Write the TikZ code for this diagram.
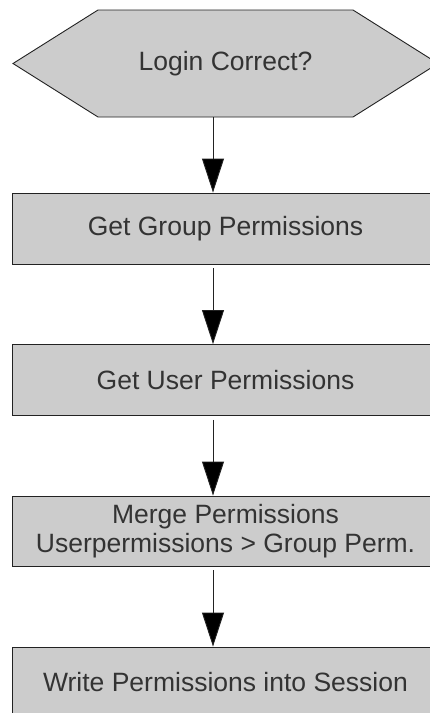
\documentclass[tikz,border=0pt]{standalone}
\usepackage{fontspec}
\setmainfont{Liberation Sans}
\usetikzlibrary{arrows.meta}
\definecolor{boxfill}{HTML}{CCCCCC}
\definecolor{txt}{HTML}{333333}
\definecolor{edge}{HTML}{222222}
\tikzset{
  lbl/.style={text=txt, font=\fontsize{26.5}{29.5}\selectfont, align=center, inner sep=0pt},
  stepbox/.style={lbl, draw=edge, fill=boxfill, line width=0.9pt, minimum width=427pt, minimum height=71pt},
  arr/.style={draw=edge, line width=0.9pt, -{Triangle[length=34pt,width=22pt,fill=black]}},
}
\begin{document}
\begin{tikzpicture}[x=1pt,y=-1pt]
\useasboundingbox (0,0) rectangle (430,713);
\clip (0,0) rectangle (430,713);
\fill[white] (0,0) rectangle (430,713);
\draw[fill=boxfill, draw=edge, line width=0.9pt] (13,63.5) -- (98,10) -- (353,10) -- (438,63.5) -- (353,117) -- (98,117) -- cycle;
\node[lbl, minimum width=425pt, minimum height=107pt] (login) at (225.5,63.5) {Login Correct?};
\node[stepbox] (grp) at (225.5,228.5) {Get Group Permissions};
\node[stepbox] (usr) at (225.5,380) {Get User Permissions};
\node[stepbox, minimum height=70pt] (mrg) at (225.5,531) {Merge Permissions\\Userpermissions > Group Perm.};
\node[stepbox] (wrt) at (225.5,682.5) {Write Permissions into Session};
\draw[arr] ([xshift=-12.5pt]login.south) -- ([xshift=-12.5pt]grp.north);
\draw[arr, shorten <=4pt] ([xshift=-12.5pt]grp.south) -- ([xshift=-12.5pt]usr.north);
\draw[arr, shorten <=4pt] ([xshift=-12.5pt]usr.south) -- ([xshift=-12.5pt]mrg.north);
\draw[arr, shorten <=4pt] ([xshift=-12.5pt]mrg.south) -- ([xshift=-12.5pt]wrt.north);
\end{tikzpicture}
\end{document}
